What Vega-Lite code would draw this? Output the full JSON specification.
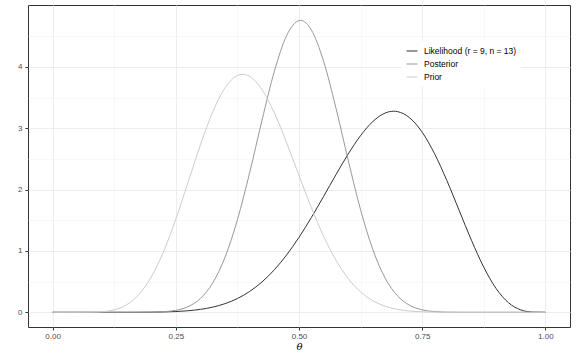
{
  "$schema": "https://vega.github.io/schema/vega-lite/v6.json",
  "width": 542,
  "height": 322,
  "autosize": "none",
  "padding": {"left": 28, "top": 5, "right": 6, "bottom": 33},
  "background": "white",
  "config": {
    "view": {"stroke": "#333333", "strokeWidth": 1},
    "font": "Liberation Sans"
  },
  "datasets": {
    "curves": [
      {"curve": "Likelihood (r = 9, n = 13)", "theta": 0, "density": 0},
      {"curve": "Likelihood (r = 9, n = 13)", "theta": 0.05, "density": 0},
      {"curve": "Likelihood (r = 9, n = 13)", "theta": 0.1, "density": 0},
      {"curve": "Likelihood (r = 9, n = 13)", "theta": 0.125, "density": 0.00004},
      {"curve": "Likelihood (r = 9, n = 13)", "theta": 0.15, "density": 0.0002},
      {"curve": "Likelihood (r = 9, n = 13)", "theta": 0.175, "density": 0.0007},
      {"curve": "Likelihood (r = 9, n = 13)", "theta": 0.2, "density": 0.0021},
      {"curve": "Likelihood (r = 9, n = 13)", "theta": 0.225, "density": 0.0053},
      {"curve": "Likelihood (r = 9, n = 13)", "theta": 0.25, "density": 0.0121},
      {"curve": "Likelihood (r = 9, n = 13)", "theta": 0.275, "density": 0.0249},
      {"curve": "Likelihood (r = 9, n = 13)", "theta": 0.3, "density": 0.0473},
      {"curve": "Likelihood (r = 9, n = 13)", "theta": 0.325, "density": 0.0841},
      {"curve": "Likelihood (r = 9, n = 13)", "theta": 0.35, "density": 0.1409},
      {"curve": "Likelihood (r = 9, n = 13)", "theta": 0.375, "density": 0.224},
      {"curve": "Likelihood (r = 9, n = 13)", "theta": 0.4, "density": 0.3401},
      {"curve": "Likelihood (r = 9, n = 13)", "theta": 0.425, "density": 0.4949},
      {"curve": "Likelihood (r = 9, n = 13)", "theta": 0.45, "density": 0.693},
      {"curve": "Likelihood (r = 9, n = 13)", "theta": 0.475, "density": 0.936},
      {"curve": "Likelihood (r = 9, n = 13)", "theta": 0.5, "density": 1.2219},
      {"curve": "Likelihood (r = 9, n = 13)", "theta": 0.525, "density": 1.5439},
      {"curve": "Likelihood (r = 9, n = 13)", "theta": 0.55, "density": 1.8901},
      {"curve": "Likelihood (r = 9, n = 13)", "theta": 0.575, "density": 2.2438},
      {"curve": "Likelihood (r = 9, n = 13)", "theta": 0.6, "density": 2.5821},
      {"curve": "Likelihood (r = 9, n = 13)", "theta": 0.625, "density": 2.8806},
      {"curve": "Likelihood (r = 9, n = 13)", "theta": 0.65, "density": 3.1115},
      {"curve": "Likelihood (r = 9, n = 13)", "theta": 0.675, "density": 3.2489},
      {"curve": "Likelihood (r = 9, n = 13)", "theta": 0.6923, "density": 3.2786},
      {"curve": "Likelihood (r = 9, n = 13)", "theta": 0.7, "density": 3.2717},
      {"curve": "Likelihood (r = 9, n = 13)", "theta": 0.725, "density": 3.168},
      {"curve": "Likelihood (r = 9, n = 13)", "theta": 0.75, "density": 2.9359},
      {"curve": "Likelihood (r = 9, n = 13)", "theta": 0.775, "density": 2.5871},
      {"curve": "Likelihood (r = 9, n = 13)", "theta": 0.8, "density": 2.15},
      {"curve": "Likelihood (r = 9, n = 13)", "theta": 0.825, "density": 1.662},
      {"curve": "Likelihood (r = 9, n = 13)", "theta": 0.85, "density": 1.1738},
      {"curve": "Likelihood (r = 9, n = 13)", "theta": 0.875, "density": 0.7349},
      {"curve": "Likelihood (r = 9, n = 13)", "theta": 0.9, "density": 0.3878},
      {"curve": "Likelihood (r = 9, n = 13)", "theta": 0.925, "density": 0.157},
      {"curve": "Likelihood (r = 9, n = 13)", "theta": 0.95, "density": 0.0394},
      {"curve": "Likelihood (r = 9, n = 13)", "theta": 0.975, "density": 0.0031},
      {"curve": "Likelihood (r = 9, n = 13)", "theta": 1, "density": 0},

      {"curve": "Posterior", "theta": 0, "density": 0},
      {"curve": "Posterior", "theta": 0.1, "density": 0},
      {"curve": "Posterior", "theta": 0.15, "density": 0},
      {"curve": "Posterior", "theta": 0.175, "density": 0.0004},
      {"curve": "Posterior", "theta": 0.2, "density": 0.0021},
      {"curve": "Posterior", "theta": 0.225, "density": 0.0092},
      {"curve": "Posterior", "theta": 0.25, "density": 0.032},
      {"curve": "Posterior", "theta": 0.275, "density": 0.0922},
      {"curve": "Posterior", "theta": 0.3, "density": 0.2255},
      {"curve": "Posterior", "theta": 0.325, "density": 0.4797},
      {"curve": "Posterior", "theta": 0.35, "density": 0.9001},
      {"curve": "Posterior", "theta": 0.375, "density": 1.5088},
      {"curve": "Posterior", "theta": 0.4, "density": 2.2818},
      {"curve": "Posterior", "theta": 0.425, "density": 3.1336},
      {"curve": "Posterior", "theta": 0.45, "density": 3.9295},
      {"curve": "Posterior", "theta": 0.475, "density": 4.5127},
      {"curve": "Posterior", "theta": 0.5, "density": 4.7559},
      {"curve": "Posterior", "theta": 0.503, "density": 4.76},
      {"curve": "Posterior", "theta": 0.525, "density": 4.6039},
      {"curve": "Posterior", "theta": 0.55, "density": 4.0903},
      {"curve": "Posterior", "theta": 0.575, "density": 3.3291},
      {"curve": "Posterior", "theta": 0.6, "density": 2.4744},
      {"curve": "Posterior", "theta": 0.625, "density": 1.6712},
      {"curve": "Posterior", "theta": 0.65, "density": 1.0188},
      {"curve": "Posterior", "theta": 0.675, "density": 0.5552},
      {"curve": "Posterior", "theta": 0.7, "density": 0.2671},
      {"curve": "Posterior", "theta": 0.725, "density": 0.1119},
      {"curve": "Posterior", "theta": 0.75, "density": 0.0399},
      {"curve": "Posterior", "theta": 0.775, "density": 0.0118},
      {"curve": "Posterior", "theta": 0.8, "density": 0.0028},
      {"curve": "Posterior", "theta": 0.825, "density": 0.0005},
      {"curve": "Posterior", "theta": 0.85, "density": 0.0001},
      {"curve": "Posterior", "theta": 0.9, "density": 0},
      {"curve": "Posterior", "theta": 1, "density": 0},

      {"curve": "Prior", "theta": 0, "density": 0},
      {"curve": "Prior", "theta": 0.025, "density": 0},
      {"curve": "Prior", "theta": 0.05, "density": 0.0001},
      {"curve": "Prior", "theta": 0.075, "density": 0.0013},
      {"curve": "Prior", "theta": 0.1, "density": 0.0095},
      {"curve": "Prior", "theta": 0.125, "density": 0.0405},
      {"curve": "Prior", "theta": 0.15, "density": 0.1219},
      {"curve": "Prior", "theta": 0.175, "density": 0.289},
      {"curve": "Prior", "theta": 0.2, "density": 0.5734},
      {"curve": "Prior", "theta": 0.225, "density": 0.9876},
      {"curve": "Prior", "theta": 0.25, "density": 1.5194},
      {"curve": "Prior", "theta": 0.275, "density": 2.1232},
      {"curve": "Prior", "theta": 0.3, "density": 2.7319},
      {"curve": "Prior", "theta": 0.325, "density": 3.2694},
      {"curve": "Prior", "theta": 0.35, "density": 3.6616},
      {"curve": "Prior", "theta": 0.375, "density": 3.86},
      {"curve": "Prior", "theta": 0.3857, "density": 3.88},
      {"curve": "Prior", "theta": 0.4, "density": 3.845},
      {"curve": "Prior", "theta": 0.425, "density": 3.6284},
      {"curve": "Prior", "theta": 0.45, "density": 3.2492},
      {"curve": "Prior", "theta": 0.475, "density": 2.7627},
      {"curve": "Prior", "theta": 0.5, "density": 2.2308},
      {"curve": "Prior", "theta": 0.525, "density": 1.7089},
      {"curve": "Prior", "theta": 0.55, "density": 1.24},
      {"curve": "Prior", "theta": 0.575, "density": 0.8503},
      {"curve": "Prior", "theta": 0.6, "density": 0.5491},
      {"curve": "Prior", "theta": 0.625, "density": 0.3325},
      {"curve": "Prior", "theta": 0.65, "density": 0.1876},
      {"curve": "Prior", "theta": 0.675, "density": 0.0979},
      {"curve": "Prior", "theta": 0.7, "density": 0.0468},
      {"curve": "Prior", "theta": 0.725, "density": 0.0202},
      {"curve": "Prior", "theta": 0.75, "density": 0.0078},
      {"curve": "Prior", "theta": 0.775, "density": 0.0026},
      {"curve": "Prior", "theta": 0.8, "density": 0.0007},
      {"curve": "Prior", "theta": 0.825, "density": 0.0002},
      {"curve": "Prior", "theta": 0.85, "density": 0},
      {"curve": "Prior", "theta": 0.9, "density": 0},
      {"curve": "Prior", "theta": 1, "density": 0}
    ]
  },
  "data": {"name": "curves"},
  "layer": [
    {
      "mark": {"type": "line", "strokeOpacity": 0},
      "encoding": {
        "x": {
          "field": "theta", "type": "quantitative",
          "scale": {"domain": [-0.05, 1.05], "nice": false, "zero": false},
          "axis": {"orient": "bottom", "values": [0.125, 0.375, 0.625, 0.875], "grid": true, "gridColor": "#f4f4f4", "gridWidth": 0.6, "labels": false, "ticks": false, "domain": false, "title": null}
        },
        "y": {
          "field": "density", "type": "quantitative",
          "scale": {"domain": [-0.24, 5.01], "nice": false, "zero": false},
          "axis": {"orient": "left", "values": [0.5, 1.5, 2.5, 3.5, 4.5], "grid": true, "gridColor": "#f4f4f4", "gridWidth": 0.6, "labels": false, "ticks": false, "domain": false, "title": null}
        },
        "detail": {"field": "curve", "type": "nominal"}
      }
    },
    {
      "mark": {"type": "line", "strokeWidth": 1, "interpolate": "monotone"},
      "encoding": {
        "x": {
          "field": "theta", "type": "quantitative",
          "scale": {"domain": [-0.05, 1.05], "nice": false, "zero": false},
          "axis": {"orient": "bottom", "values": [0, 0.25, 0.5, 0.75, 1], "format": ".2f", "grid": true, "gridColor": "#ebebeb", "gridWidth": 0.9, "domain": false, "tickColor": "#333333", "tickSize": 3, "labelColor": "#4d4d4d", "labelFontSize": 8, "labelPadding": 2, "title": "θ", "titleFont": "DejaVu Serif", "titleFontStyle": "italic", "titleFontWeight": "normal", "titleFontSize": 10, "titleColor": "#000000", "titlePadding": 1}
        },
        "y": {
          "field": "density", "type": "quantitative",
          "scale": {"domain": [-0.24, 5.01], "nice": false, "zero": false},
          "axis": {"orient": "left", "values": [0, 1, 2, 3, 4], "grid": true, "gridColor": "#ebebeb", "gridWidth": 0.9, "domain": false, "tickColor": "#333333", "tickSize": 3, "labelColor": "#4d4d4d", "labelFontSize": 8, "labelPadding": 3, "title": null}
        },
        "color": {
          "field": "curve", "type": "nominal",
          "scale": {"domain": ["Likelihood (r = 9, n = 13)", "Posterior", "Prior"], "range": ["#333333", "#989898", "#cccccc"]},
          "legend": {"title": null, "orient": "none", "legendX": 374, "legendY": 36, "symbolType": "stroke", "symbolStrokeWidth": 1, "symbolSize": 121, "labelFontSize": 8.5, "labelColor": "#000000", "labelOffset": 6, "fillColor": "white", "padding": 4, "rowPadding": 2}
        }
      }
    }
  ],
  "resolve": {"axis": {"x": "independent", "y": "independent"}}
}
